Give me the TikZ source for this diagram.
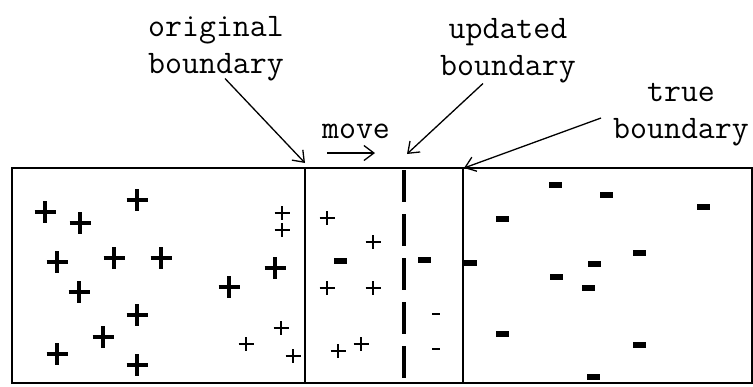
\documentclass[tikz,border=0pt]{standalone}
\usepackage{fontspec}
\usetikzlibrary{arrows.meta}

\begin{document}
\begin{tikzpicture}[x=1pt,y=-1pt,
 lbl/.style={font=\ttfamily\fontsize{32.9pt}{37pt}\selectfont,align=center,inner sep=0pt},
 arr/.style={-{Straight Barb[length=10pt,width=15pt]},line width=1.3pt},
 frame/.style={line width=2.5pt},
 bnd/.style={line width=2.2pt},
 bplus/.pic={\draw[line width=4.6pt] (-10.5,0)--(10.5,0) (0,-11)--(0,11);},
 splus/.pic={\draw[line width=1.8pt] (-7.5,0)--(7.5,0) (0,-7)--(0,7);},
 bminus/.pic={\fill (-6.5,-3)rectangle(6.5,3);},
 sminus/.pic={\fill (-4,-1.3)rectangle(4,1.3);}]
\useasboundingbox (0,0) rectangle (753,386);

\node[lbl] (origlbl) at (216,49) {original\\boundary};
\node[lbl] (updlbl) at (508,51) {updated\\boundary};
\node[lbl] (truelbl) at (681,115) {true\\boundary};
\node[lbl] (movelbl) at (356,131) {move};

\coordinate (orig) at (305,168);
\coordinate (upd) at (404,170);
\coordinate (true) at (463,168);
\coordinate (origtip) at (305,163);
\coordinate (updtip) at (407,154);
\coordinate (truetip) at (464,168);
\coordinate (mvstart) at (327,153);
\coordinate (mvend) at (375,153);

\draw[frame] (12,168) rectangle (752,383);
\draw[bnd] (orig)--(orig|-0,383);
\draw[bnd] (true)--(true|-0,383);
\draw[line width=3.2pt,dash pattern=on 32pt off 12pt] (upd)--(upd|-0,381);

\draw[arr] ([xshift=9pt,yshift=3pt]origlbl.south)--(origtip);
\draw[arr] ([xshift=-25pt]updlbl.south)--(updtip);
\draw[arr] ([xshift=-12pt,yshift=-3pt]truelbl.west)--(truetip);
\draw[arr] (mvstart)--(mvend);

\foreach \xx/\yy in {45/212,80/223,137/200,57/262,114/258,161/258,79/292,229/287,
 275/268,137/315,103/337,57/354,137/365}
  \pic at (\xx,\yy) {bplus};
\foreach \xx/\yy in {282/213,282/230,281/328,246/344,293/356,
 327/218,373/242,327/288,373/288,338/351,361/344}
  \pic at (\xx,\yy) {splus};
\foreach \xx/\yy in {340/261,424/260,470/263,555/185,606/195,703/207,502/219,
 639/253,594/264,556/277,588/288,502/334,639/345,593/377}
  \pic at (\xx,\yy) {bminus};
\foreach \xx/\yy in {436/314,436/349}
  \pic at (\xx,\yy) {sminus};
\end{tikzpicture}
\end{document}
